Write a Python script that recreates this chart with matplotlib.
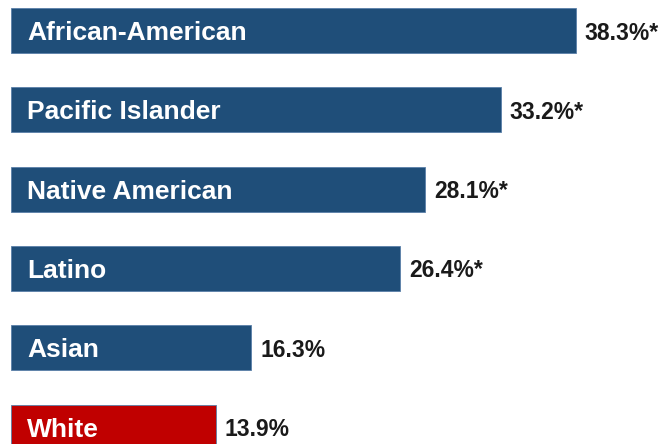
import matplotlib
matplotlib.use("Agg")
import matplotlib.pyplot as plt

categories = ["African-American", "Pacific Islander", "Native American", "Latino", "Asian", "White"]
values = [38.3, 33.2, 28.1, 26.4, 16.3, 13.9]
value_labels = ["38.3%*", "33.2%*", "28.1%*", "26.4%*", "16.3%", "13.9%"]
colors = ["#1F4E79", "#1F4E79", "#1F4E79", "#1F4E79", "#1F4E79", "#C00000"]

plt.rcParams['font.family'] = ['Liberation Sans', 'DejaVu Sans']

fig = plt.figure(figsize=(6.59, 4.44), dpi=100)
ax = fig.add_axes([0, 0, 1, 1])

ypos = list(range(len(categories)))
ax.barh(ypos, values, height=0.567, color=colors, edgecolor="#5A7FA8", linewidth=0.6)

for y, v, cat, lab in zip(ypos, values, categories, value_labels):
    ax.text(1.1, y, cat, color="white", fontsize=19, fontweight="bold",
            va="center_baseline", ha="left")
    ax.text(v + 0.6, y, lab, color="#1a1a1a", fontsize=16.5, fontweight="bold",
            va="center_baseline", ha="left")

ax.set_xlim(-0.746, 43.93)
ax.set_ylim(5.214, -0.385)
ax.axis("off")

fig.savefig("out.png", dpi=100, facecolor="white")
